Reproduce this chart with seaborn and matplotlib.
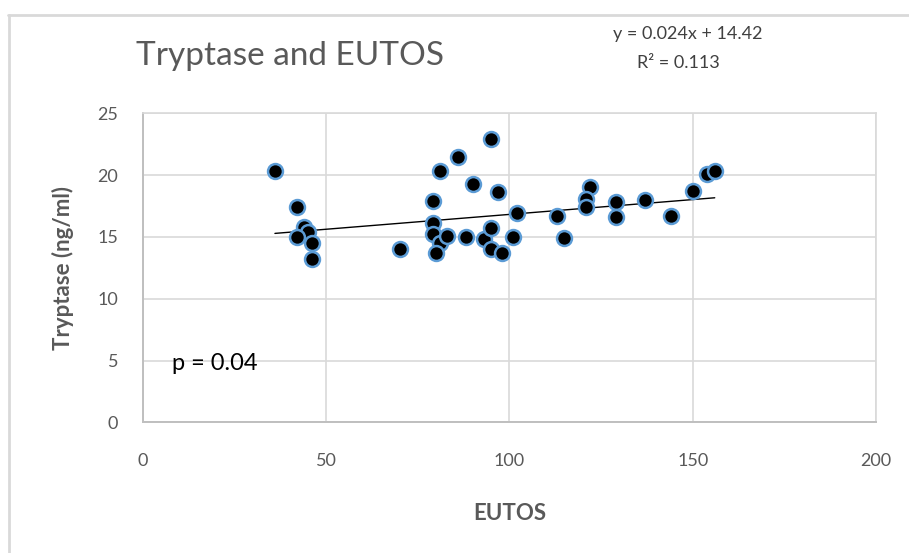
import numpy as np
import pandas as pd
import matplotlib.pyplot as plt
from matplotlib.lines import Line2D
import seaborn as sns

# ข้อมูลที่อ่านจากกราฟ
eutos = [36, 42, 44, 45, 42, 46, 46, 70, 79, 79, 79, 81, 80, 83, 81, 86, 90, 88, 93,
         95, 95, 98, 95, 97, 101, 102, 113, 115, 122, 121, 121, 129, 129, 137, 144,
         150, 154, 156]
tryptase = [20.3, 17.4, 15.8, 15.4, 15.0, 14.5, 13.2, 14.0, 17.9, 16.1, 15.2, 14.5,
            13.7, 15.1, 20.3, 21.5, 19.3, 15.0, 14.8, 15.7, 14.0, 13.7, 22.9, 18.6,
            15.0, 16.9, 16.7, 14.9, 19.0, 18.1, 17.4, 17.8, 16.6, 18.0, 16.7, 18.7,
            20.1, 20.3]
slope = 0.024
intercept = 14.42
r2 = 0.113
x_ticks = [0, 50, 100, 150, 200]
y_ticks = [0, 5, 10, 15, 20, 25]

df = pd.DataFrame({'EUTOS': eutos, 'Tryptase': tryptase})

sns.set_style('whitegrid')
plt.rcParams['font.family'] = ['Lato', 'DejaVu Sans']

fig = plt.figure(figsize=(9.09, 5.53), dpi=100)
ax = fig.add_axes([0.1573, 0.2362, 0.8064, 0.559])

# เส้นแนวโน้ม
xs = np.array([min(eutos), max(eutos)])
ax.plot(xs, slope * xs + intercept, color='black', lw=1, zorder=2)

sns.scatterplot(data=df, x='EUTOS', y='Tryptase', ax=ax, color='black',
                edgecolor='#5B9BD5', linewidth=1.8, s=115, zorder=3)

ax.set_xlim(0, 200)
ax.set_ylim(0, 25)
ax.set_xticks(x_ticks)
ax.set_yticks(y_ticks)
ax.grid(color='#D9D9D9', lw=1.2)
ax.tick_params(axis='both', length=0, labelsize=13, labelcolor='#595959')
ax.tick_params(axis='y', pad=18)
ax.tick_params(axis='x', pad=22)
for side in ['top', 'right']:
    ax.spines[side].set_color('#D9D9D9')
    ax.spines[side].set_linewidth(1.2)
for side in ['left', 'bottom']:
    ax.spines[side].set_color('#BFBFBF')
    ax.spines[side].set_linewidth(1.4)

ax.set_xlabel('EUTOS', fontsize=16, fontweight='bold', color='#595959')
ax.set_ylabel('Tryptase (ng/ml)', fontsize=16, fontweight='bold', color='#595959')
ax.xaxis.set_label_coords(0.5, -0.26)
ax.yaxis.set_label_coords(-0.094, 0.5)

ax.text(8, 4.8, 'p = 0.04', fontsize=17, color='black', va='center')

fig.text(136 / 909, 1 - 56 / 553, 'Tryptase and EUTOS', fontsize=24,
         color='#595959', va='center', ha='left')
fig.text(688 / 909, 1 - 34 / 553, f'y = {slope}x + {intercept}', fontsize=13,
         color='#404040', ha='center', va='center')
fig.text(678 / 909, 1 - 63 / 553, f'R² = {r2}', fontsize=13,
         color='#404040', ha='center', va='center')

# กรอบของแผนภูมิ
fig.add_artist(Line2D([8 / 909, 1], [1 - 15 / 553] * 2, color='#D9D9D9', lw=2))
fig.add_artist(Line2D([9 / 909] * 2, [0, 1 - 15 / 553], color='#D9D9D9', lw=2))

fig.savefig('out.png', dpi=100)
